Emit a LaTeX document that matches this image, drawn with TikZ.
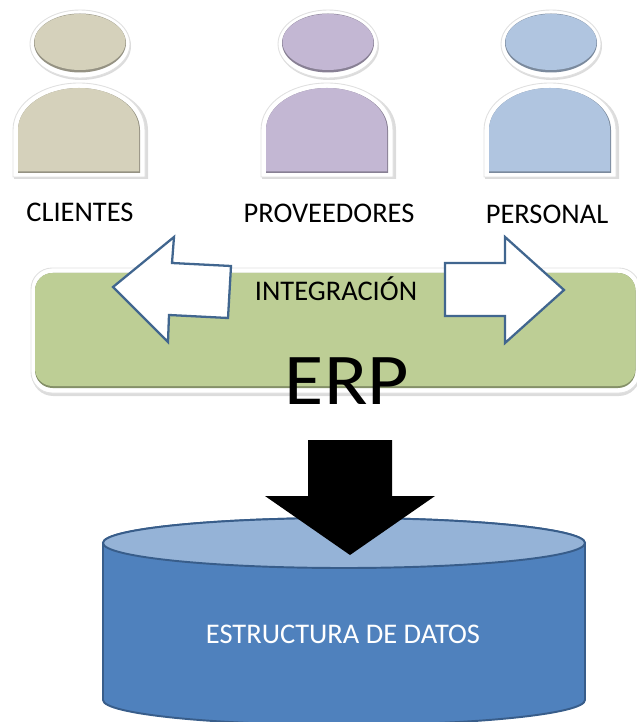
\documentclass[tikz,border=0pt]{standalone}
\usepackage{fontspec}
\setmainfont{Carlito}
\usetikzlibrary{positioning}
\definecolor{colorClientes}{HTML}{D5D1BB}
\definecolor{colorProveedores}{HTML}{C3B7D3}
\definecolor{colorPersonal}{HTML}{B0C5E0}
\definecolor{colorIntegracion}{HTML}{BDCE95}
\definecolor{colorFlecha}{HTML}{41668F}
\definecolor{colorTapa}{HTML}{95B3D7}
\definecolor{colorTambor}{HTML}{4F81BD}
\definecolor{colorBorde}{HTML}{385D8A}
\tikzset{
  etiqueta/.style={font=\fontsize{16.2}{18}\selectfont, text=black, inner sep=0pt},
  flecha/.style={draw=colorFlecha, line width=1.3pt, fill=white, line join=miter},
  sombra/.style={fill=black!30, draw=none, opacity=0.45},
  aro/.style={fill=white, draw=black!12, line width=0.5pt},
}
\begin{document}
\begin{tikzpicture}[x=0.02cm, y=-0.02cm]
    \useasboundingbox (0, 0) rectangle (636, 722);

    % Personas
    \foreach \cx/\relleno in {80/colorClientes, 328/colorProveedores, 551/colorPersonal} {
      \begin{scope}[shift={(\cx, 0)}]
        % Cabeza
        \fill[sombra] (1, 46) ellipse (50 and 34);
        \filldraw[aro] (0, 44) ellipse (50 and 34);
        \fill[\relleno!70!black] (0, 43) ellipse (46 and 29.5);
        \fill[\relleno] (0, 42) ellipse (45.5 and 28);
        % Cuerpo
        \fill[sombra] (-66, 179) -- (-66, 130) .. controls (-66, 102) and (-36, 85) .. (0, 85)
          .. controls (36, 85) and (68, 102) .. (68, 130) -- (68, 179) -- cycle;
        \filldraw[aro] (-67, 177) -- (-67, 130) .. controls (-67, 102) and (-36, 83) .. (-1, 83)
          .. controls (34, 83) and (65, 102) .. (65, 130) -- (65, 177) -- cycle;
        \fill[\relleno!70!black] (-62, 173) -- (-62, 130) .. controls (-62, 106) and (-34, 88) .. (-1, 88)
          .. controls (32, 88) and (60, 106) .. (60, 130) -- (60, 173) -- cycle;
        \fill[\relleno] (-62, 171.5) -- (-62, 130) .. controls (-62, 106) and (-34, 88) .. (-1, 88)
          .. controls (32, 88) and (59, 106) .. (59, 130) -- (59, 171.5) -- cycle;
      \end{scope}
    }

    % Nombres
    \node[etiqueta] (clientes) at (80, 212) {CLIENTES};
    \node[etiqueta] (proveedores) at (329, 213) {PROVEEDORES};
    \node[etiqueta] (personal) at (547, 214) {PERSONAL};

    % Bloque verde
    \fill[sombra, rounded corners=12pt] (32, 271) rectangle (640, 396);
    \filldraw[aro, rounded corners=12pt] (31, 268) rectangle (640, 393);
    \fill[colorIntegracion!70!black, rounded corners=10pt] (35, 273) rectangle (635.5, 388);
    \fill[colorIntegracion, rounded corners=10pt] (35, 273) rectangle (635.5, 386);

    % Flechas blancas
    \draw[flecha] (113, 287) -- (174, 237) -- (172, 263) -- (231, 266) -- (228, 318)
      -- (169, 315) -- (168, 342) -- cycle;
    \draw[flecha] (445, 263) -- (505, 263) -- (505, 237) -- (564, 290) -- (505, 343)
      -- (505, 316) -- (445, 316) -- cycle;

    \node[etiqueta] (integracion) at (336, 288.5) {INTEGRACIÓN};
    \node[inner sep=0pt, font=\fontsize{41.5}{46}\selectfont] (erp) at (347, 381.5) {\scalebox{1.1}[1]{ERP}};

    % Cilindro
    \filldraw[fill=colorTambor, draw=colorBorde, line width=1.1pt]
      (103, 543) -- (103, 700) arc[start angle=180, end angle=0, x radius=241, y radius=25]
      -- (585, 543) arc[start angle=0, end angle=-180, x radius=241, y radius=25] -- cycle;
    \filldraw[fill=colorTapa, draw=colorBorde, line width=1.1pt] (344, 543) ellipse (241 and 25);
    \node[inner sep=0pt, text=white, font=\fontsize{16.2}{18}\selectfont] (estructura) at (343, 634) {ESTRUCTURA DE DATOS};

    % Flecha negra
    \fill[black] (308, 440) -- (392, 440) -- (392, 496) -- (435, 496) -- (350, 555)
      -- (265, 496) -- (308, 496) -- cycle;
\end{tikzpicture}
\end{document}
